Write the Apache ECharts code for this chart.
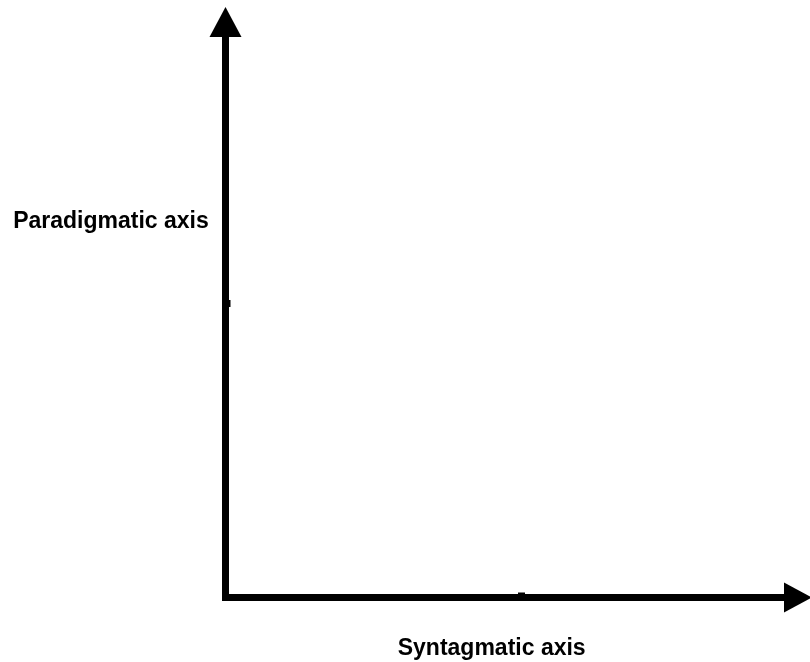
<!DOCTYPE html>
<html>
<head>
<meta charset="utf-8">
<script src="https://cdn.jsdelivr.net/npm/echarts@6/dist/echarts.min.js"></script>
<style>
  html, body { margin: 0; padding: 0; background: #fff; }
  #chart { width: 810px; height: 662px; }
</style>
</head>
<body>
<div id="chart"></div>
<script>
// axis titles
const xName = 'Syntagmatic axis';
const yName = 'Paradigmatic axis';
// each axis runs from 0 and carries one mid tick at 1
const xExtent = [0, 1.937];
const yExtent = [0, 1.954];
const points = []; // no plotted data, the figure is only the two axes

const chart = echarts.init(document.getElementById('chart'), null, {renderer: 'canvas'});

const axisBase = (extent) => ({
    type: 'value',
    min: extent[0],
    max: extent[1],
    interval: 1,
    splitLine: {show: false},
    axisLabel: {show: false},
    axisLine: {
        show: true,
        symbol: ['none', 'triangle'],
        lineStyle: {color: '#000', width: 7, cap: 'square'}
    },
    axisTick: {
        show: true,
        inside: true,
        length: 5,
        lineStyle: {color: '#000', width: 7}
    }
});

const xAxis = axisBase(xExtent);
xAxis.axisLine.symbolSize = [30, 28];
const yAxis = axisBase(yExtent);
yAxis.axisLine.symbolSize = [32, 30];

chart.setOption({
    animation: false,
    backgroundColor: '#fff',
    grid: {left: 225.5, right: 12, top: 22, bottom: 64.5, containLabel: false},
    xAxis: xAxis,
    yAxis: yAxis,
    series: [{type: 'scatter', data: points, symbolSize: 0}],
    graphic: [
        {
            type: 'text',
            left: 'auto',
            x: 111,
            y: 222,
            style: {
                text: yName,
                fill: '#000',
                font: 'bold 23px "Liberation Sans", Arial, sans-serif',
                align: 'center',
                verticalAlign: 'middle'
            }
        },
        {
            type: 'text',
            x: 491.7,
            y: 648.7,
            style: {
                text: xName,
                fill: '#000',
                font: 'bold 23px "Liberation Sans", Arial, sans-serif',
                align: 'center',
                verticalAlign: 'middle'
            }
        }
    ]
});
</script>
</body>
</html>
